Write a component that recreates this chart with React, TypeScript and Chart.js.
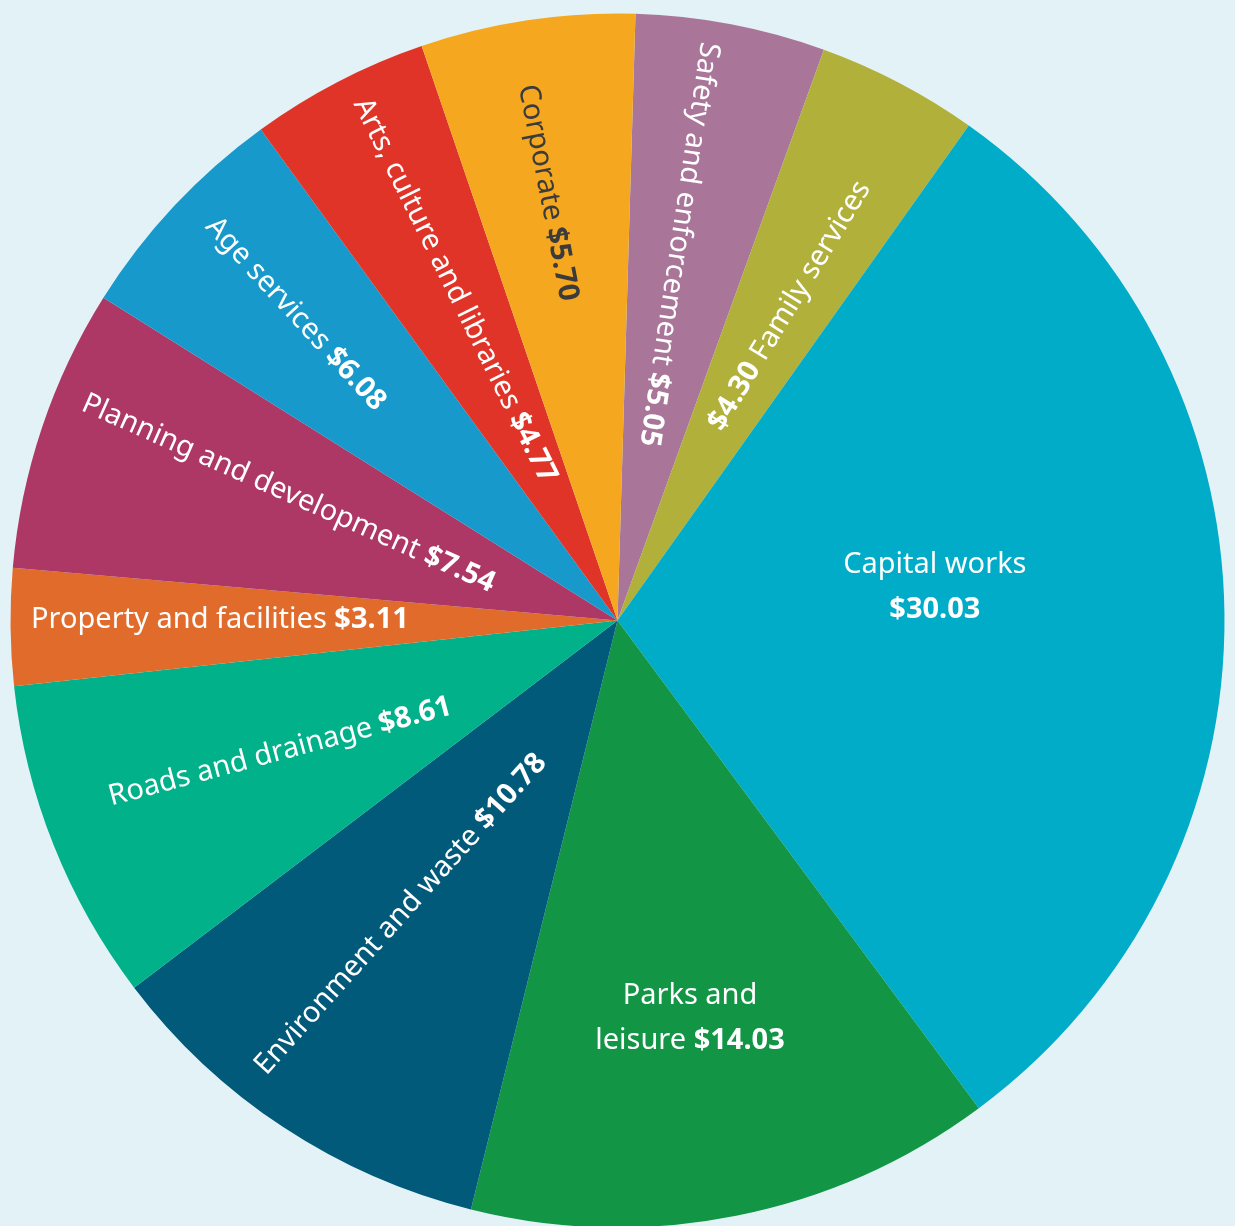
import React, { useEffect, useRef } from "react";
import { Chart, registerables } from "chart.js";

Chart.register(...registerables);

const categories = [
  "Safety and enforcement",
  "Family services",
  "Capital works",
  "Parks and leisure",
  "Environment and waste",
  "Roads and drainage",
  "Property and facilities",
  "Planning and development",
  "Age services",
  "Arts, culture and libraries",
  "Corporate",
];
const values = [5.05, 4.3, 30.03, 14.03, 10.78, 8.61, 3.11, 7.54, 6.08, 4.77, 5.7];

const sliceColors = [
  "#a97699",
  "#b1b03a",
  "#00acc8",
  "#129646",
  "#015a79",
  "#00b18a",
  "#e06b2b",
  "#ad3865",
  "#1799cb",
  "#e03428",
  "#f5a81f",
];
const textColors = [
  "#ffffff",
  "#ffffff",
  "#ffffff",
  "#ffffff",
  "#ffffff",
  "#ffffff",
  "#ffffff",
  "#ffffff",
  "#ffffff",
  "#ffffff",
  "#3b3b3b",
];

// label placement: frac = distance of label centre / radius, dAng = offset from slice mid angle (deg),
// rot = text rotation in degrees (null = horizontal multi-line), breakWords = words on first line
type LabelLayout = {
  frac: number;
  dAng: number;
  rot: number | null;
  breakWords?: number;
  valueFirst?: boolean;
};
const labelLayout: LabelLayout[] = [
  { frac: 0.628, dAng: -1.2, rot: 98.6 },
  { frac: 0.591, dAng: 0.7, rot: -58.7, valueFirst: true },
  { frac: 0.526, dAng: -5.75, rot: null, breakWords: 2 },
  { frac: 0.663, dAng: 0.9, rot: null, breakWords: 2 },
  { frac: 0.601, dAng: 3.4, rot: -48 },
  { frac: 0.596, dAng: 0.8, rot: -15 },
  { frac: 0.655, dAng: 1.1, rot: 0 },
  { frac: 0.581, dAng: 2.9, rot: 24 },
  { frac: 0.732, dAng: 0.8, rot: 47.4 },
  { frac: 0.606, dAng: 1.5, rot: 63.7 },
  { frac: 0.714, dAng: -0.4, rot: 79 },
];

const FONT_SIZE = 29;
const LINE_HEIGHT = 45;
const FONT_FAMILY = '"Noto Sans", "Open Sans", sans-serif';

const fmt = (v: number) => "$" + v.toFixed(2);

const labelPlugin = {
  id: "sliceLabels",
  afterDatasetsDraw(chart: any) {
    const ctx: CanvasRenderingContext2D = chart.ctx;
    const meta = chart.getDatasetMeta(0);
    const regular = `400 ${FONT_SIZE}px ${FONT_FAMILY}`;
    const bold = `700 ${FONT_SIZE}px ${FONT_FAMILY}`;
    const capOffset = FONT_SIZE * 0.36;

    const drawLine = (segs: { t: string; b: boolean }[], cy: number) => {
      let total = 0;
      const widths = segs.map((s) => {
        ctx.font = s.b ? bold : regular;
        const w = ctx.measureText(s.t).width;
        total += w;
        return w;
      });
      let x = -total / 2;
      segs.forEach((s, i) => {
        ctx.font = s.b ? bold : regular;
        ctx.fillText(s.t, x, cy + capOffset);
        x += widths[i];
      });
    };

    meta.data.forEach((arc: any, i: number) => {
      const lay = labelLayout[i];
      if (!lay) return;
      const { x, y, startAngle, endAngle, outerRadius } = arc.getProps(
        ["x", "y", "startAngle", "endAngle", "outerRadius"],
        true
      );
      const mid = (startAngle + endAngle) / 2 + (lay.dAng * Math.PI) / 180;
      const px = x + Math.cos(mid) * outerRadius * lay.frac;
      const py = y + Math.sin(mid) * outerRadius * lay.frac;
      const name = categories[i];
      const val = fmt(values[i]);
      ctx.save();
      ctx.fillStyle = textColors[i];
      ctx.textAlign = "left";
      ctx.textBaseline = "alphabetic";
      ctx.translate(px, py);
      if (lay.rot === null) {
        const words = name.split(" ");
        const n = lay.breakWords ?? words.length;
        const first = words.slice(0, n).join(" ");
        const rest = words.slice(n).join(" ");
        const lines: { t: string; b: boolean }[][] = [];
        if (rest.length === 0) {
          lines.push([{ t: first, b: false }]);
          lines.push([{ t: val, b: true }]);
        } else {
          lines.push([{ t: first, b: false }]);
          lines.push([
            { t: rest + " ", b: false },
            { t: val, b: true },
          ]);
        }
        const top = -((lines.length - 1) * LINE_HEIGHT) / 2;
        lines.forEach((ln, k) => drawLine(ln, top + k * LINE_HEIGHT));
      } else {
        ctx.rotate((lay.rot * Math.PI) / 180);
        const segs = lay.valueFirst
          ? [
              { t: val + " ", b: true },
              { t: name, b: false },
            ]
          : [
              { t: name + " ", b: false },
              { t: val, b: true },
            ];
        drawLine(segs, 0);
      }
      ctx.restore();
    });
  },
};

export default function App() {
  const canvasRef = useRef<HTMLCanvasElement | null>(null);

  useEffect(() => {
    if (!canvasRef.current) return;
    const chart = new Chart(canvasRef.current, {
      type: "pie",
      data: {
        labels: categories,
        datasets: [
          {
            data: values,
            backgroundColor: sliceColors,
            borderWidth: 0,
          },
        ],
      },
      options: {
        responsive: false,
        maintainAspectRatio: false,
        animation: false,
        rotation: 1.7,
        layout: { padding: { left: 10.5, right: 10.5, top: 13.5, bottom: 12.5 } },
        plugins: {
          legend: { display: false },
          tooltip: { enabled: false },
        },
      },
      plugins: [labelPlugin],
    });
    return () => chart.destroy();
  }, []);

  return (
    <div
      style={{
        position: "absolute",
        left: 0,
        top: 0,
        width: 1235,
        height: 1226,
        overflow: "hidden",
        background: "#e3f2f6",
      }}
    >
      <canvas ref={canvasRef} width={1235} height={1240} style={{ display: "block" }} />
    </div>
  );
}
